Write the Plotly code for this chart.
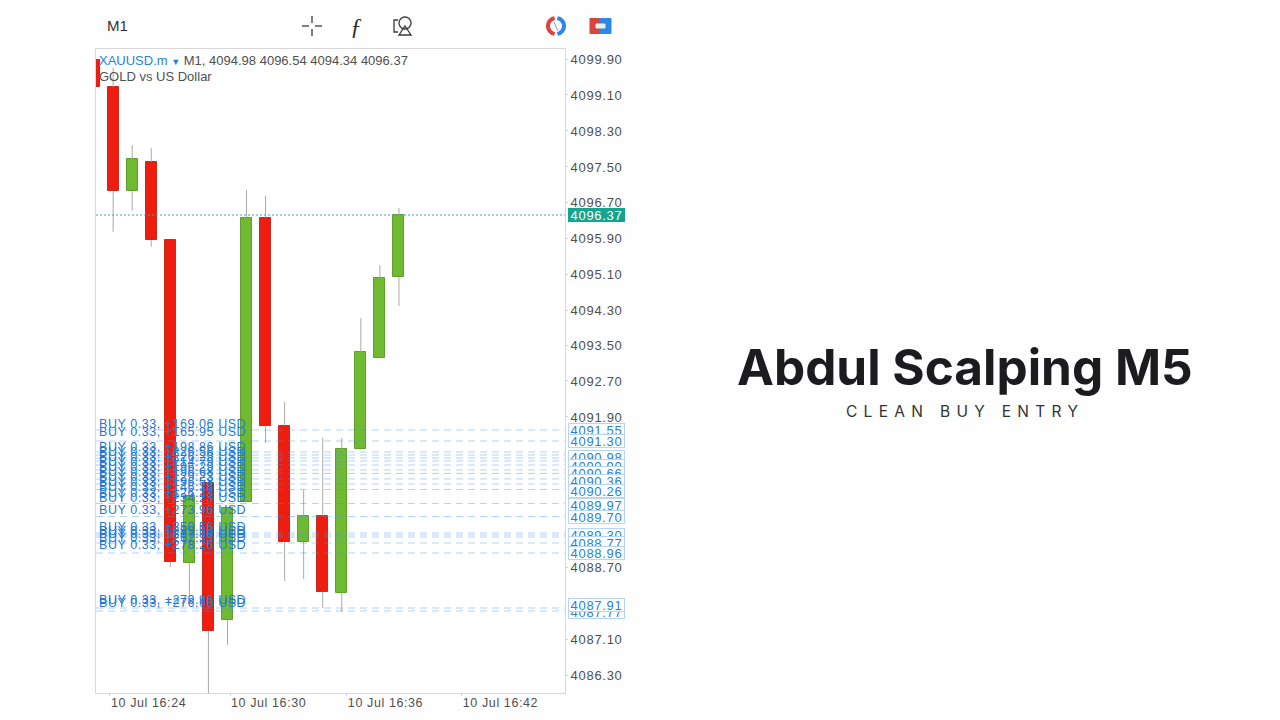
import math
import plotly.graph_objects as go

# ---------- data ----------
minutes = ["16:23","16:24","16:25","16:26","16:27","16:28","16:29","16:30","16:31","16:32",
           "16:33","16:34","16:35","16:36","16:37","16:38","16:39"]
opens  = [4099.889,4099.289,4096.978,4097.622,4095.889,4088.718,4090.489,4087.444,4090.073,
          4096.384,4091.762,4089.178,4089.756,4088.051,4091.244,4093.267,4095.067]
closes = [4099.289,4096.978,4097.689,4095.889,4088.740,4090.200,4087.200,4089.933,4096.384,
          4091.762,4089.184,4089.756,4088.073,4091.244,4093.400,4095.044,4096.444]
highs  = [4099.889,4099.711,4098.000,4097.933,4095.889,4090.200,4090.489,4089.933,4097.000,
          4096.873,4092.289,4090.333,4091.489,4091.489,4094.156,4095.333,4096.600]
lows   = [4099.289,4096.073,4096.540,4095.740,4088.622,4087.956,4085.800,4086.889,4090.073,
          4091.378,4088.311,4088.356,4087.711,4087.622,4091.244,4093.267,4094.422]

price_tick_positions = [4099.900,4099.111,4098.311,4097.511,4096.733,4095.933,4095.133,4094.333,
                        4093.544,4092.756,4091.956,4088.622,4087.022,4086.222]
price_tick_labels = ["4099.90","4099.10","4098.30","4097.50","4096.70","4095.90","4095.10","4094.30",
                     "4093.50","4092.70","4091.90","4088.70","4087.10","4086.30"]
time_tick_positions = ["2025-07-10 16:23:50","2025-07-10 16:30:08","2025-07-10 16:36:16","2025-07-10 16:42:18"]
time_tick_labels = ["10 Jul 16:24","10 Jul 16:30","10 Jul 16:36","10 Jul 16:42"]

order_lines = [4091.667,4091.422,4091.178,4091.111,4091.044,4090.978,4090.889,4090.778,4090.700,
               4090.578,4090.467,4090.344,4090.033,4089.744,4089.378,4089.333,4089.289,4089.156,
               4088.933,4087.711,4087.644]
order_text_pos = [4091.800,4091.633,4091.289,4091.178,4091.067,4090.956,4090.844,4090.733,4090.622,
                  4090.511,4090.400,4090.267,4090.156,4089.889,4089.511,4089.422,4089.356,4089.267,
                  4089.111,4087.889,4087.822]
order_profit = ["+169.06","+165.95","+198.86","+226.56","+226.29","+214.79","+196.29","+196.68","+129.23",
                "+196.58","+146.38","+126.23","+234.23","+273.96","+250.56","+299.56","+267.86","+262.33",
                "+278.26","+279.96","+276.66"]
tag_pos = [4091.667,4091.411,4091.056,4090.867,4090.700,4090.533,4090.300,4090.000,4089.744,4089.344,
           4089.156,4088.944,4087.622,4087.767]
tag_labels = ["4091.55","4091.30","4090.98","4090.90","4090.66","4090.36","4090.26","4089.97","4089.70",
              "4089.30","4088.77","4088.96","4087.77","4087.91"]
current_pos = 4096.444
current_label = "4096.37"

L, R, T, B = 96, 565, 49, 693
W, H = 1280, 720
xp = lambda x: (x - L) / (R - L)
yp = lambda y: (B - y) / (B - T)

RED, GREEN, WICK, BLUE = "#ef1d0f", "#6fba30", "#a9a9a9", "#2a7fd6"
TICKC = "#505050"
FONT = "Liberation Sans"

def spaced(text, px):
    return f'<span style="letter-spacing:{px}px">{text}</span>'

xs = [f"2025-07-10 {m}:00" for m in minutes]

wx, wy = [], []
for x, o, c, h, l in zip(xs, opens, closes, highs, lows):
    top, bot = max(o, c), min(o, c)
    if h > top:
        wx += [x, x, None]; wy += [h, top, None]
    if l < bot:
        wx += [x, x, None]; wy += [bot, l, None]

fig = go.Figure()
fig.add_trace(go.Bar(
    x=xs, y=[c - o for o, c in zip(opens, closes)], base=opens, width=34500,
    marker=dict(color=[GREEN if c > o else RED for o, c in zip(opens, closes)],
                line=dict(color=["#5f9f2c" if c > o else "#c92a1c" for o, c in zip(opens, closes)], width=1)),
    showlegend=False))
fig.add_trace(go.Scatter(x=wx, y=wy, mode="lines", line=dict(color=WICK, width=1), showlegend=False,
                         connectgaps=False))

shapes = []
for v in order_lines:
    shapes.append(dict(type="line", xref="paper", x0=0, x1=1, yref="y", y0=v, y1=v,
                       line=dict(color="rgba(70,150,230,0.42)", width=1, dash="7px,5px")))
shapes.append(dict(type="line", xref="paper", x0=0, x1=1, yref="y", y0=current_pos, y1=current_pos,
                   line=dict(color="#3aa99a", width=1, dash="2px,2px")))

def seg(x0, y0, x1, y1, color="#3a3a3a", width=1.3):
    shapes.append(dict(type="line", xref="paper", yref="paper", x0=xp(x0), x1=xp(x1), y0=yp(y0), y1=yp(y1),
                       line=dict(color=color, width=width)))

def poly(points, color, width=1.3, fill=None, close=False):
    d = "M " + " L ".join(f"{xp(a):.5f},{yp(b):.5f}" for a, b in points) + (" Z" if close else "")
    shapes.append(dict(type="path", xref="paper", yref="paper", path=d,
                       line=dict(color=color, width=width), fillcolor=fill))

def arc(cx, cy, rx, ry, a0, a1, n=24):
    return [(cx + rx * math.cos(math.radians(a0 + (a1 - a0) * i / n)),
             cy + ry * math.sin(math.radians(a0 + (a1 - a0) * i / n))) for i in range(n + 1)]

# crosshair icon
seg(302, 26, 309, 26); seg(315, 26, 322, 26); seg(312, 16, 312, 23); seg(312, 29, 312, 36)
# objects icon
poly([(398, 20), (394, 20), (394, 32), (398, 32)], "#3a3a3a")
poly(arc(405, 23, 6, 6, 0, 360), "#3a3a3a")
poly([(405, 26), (411, 35), (399, 35)], "#3a3a3a", close=True)
# ring icon
poly(arc(556, 26, 8, 8, 100, 260), "#d8453f", 4)
poly(arc(556, 26, 8, 8, -80, 80), "#2b88e6", 4)
seg(554, 22, 558, 31, "#8a9bb0", 1)
# split button icon
poly([(590, 18.5), (600, 18.5), (600, 33.5), (590, 33.5)], "#d8453f", 1, "#d8453f", True)
poly([(600, 18.5), (611, 18.5), (611, 33.5), (600, 33.5)], "#2b88e6", 1, "#2b88e6", True)
poly([(596, 24), (605, 24), (605, 28), (596, 28)], "#e8eef5", 1, "#e8eef5", True)

ann = []
def text(x, y, s, size=13, color=TICKC, xanchor="left", family=FONT, **kw):
    ann.append(dict(xref="paper", yref="paper", x=xp(x), y=yp(y), text=s, showarrow=False, xanchor=xanchor,
                    yanchor="middle", font=dict(family=family, size=size, color=color), **kw))

text(105, 26, "M1", 15, "#333333")
text(356, 26, "<i>ƒ</i>", 24, "#333333", "center", "Liberation Serif")
text(97, 60.5, f'<span style="color:{BLUE}">XAUUSD.m</span> <span style="color:{BLUE};font-size:9px">▼</span> M1, 4094.98 4096.54 4094.34 4096.37', 13)
text(97, 76.5, "GOLD vs US Dollar", 13)
text(965, 367, "<b>Abdul Scalping M5</b>", 49.5, "#1c1c1e", "center", "Inter")
text(965, 411, spaced("CLEAN BUY ENTRY", 6.3), 15.5, "#333333", "center", "Inter")

for pos, prof in zip(order_text_pos, order_profit):
    ann.append(dict(xref="paper", yref="y", x=xp(97), y=pos, text=spaced(f"BUY 0.33, {prof} USD", 0.55), showarrow=False,
                    xanchor="left", yanchor="middle", font=dict(family=FONT, size=12.5, color="#1f78d8")))
for pos, lab in zip(tag_pos, tag_labels):
    ann.append(dict(xref="paper", yref="y", x=xp(567.5), y=pos, text=spaced(lab, 0.7), showarrow=False, xanchor="left",
                    yanchor="middle", width=55, height=12, align="center", bgcolor="#ffffff", bordercolor="#b5d6f5",
                    borderwidth=1, borderpad=0, font=dict(family=FONT, size=13, color=BLUE)))
ann.append(dict(xref="paper", yref="y", x=xp(567.5), y=current_pos, text=spaced(current_label, 0.7), showarrow=False,
                xanchor="left", yanchor="middle", width=55, height=12, align="center", bgcolor="#13a590",
                bordercolor="#13a590", borderwidth=1, borderpad=0, font=dict(family=FONT, size=13, color="#ffffff")))

fig.update_layout(
    width=W, height=H, autosize=False, margin=dict(l=L, r=W - R, t=T, b=H - B, pad=0, autoexpand=False),
    paper_bgcolor="#fefefe", plot_bgcolor="#ffffff", bargap=0, showlegend=False,
    shapes=shapes, annotations=ann, font=dict(family=FONT, color=TICKC),
    xaxis=dict(type="date", range=["2025-07-10 16:23:06", "2025-07-10 16:47:43"], automargin=False,
               tickmode="array", tickvals=time_tick_positions, ticktext=[spaced(s, 0.6) for s in time_tick_labels],
               ticklabelposition="outside right", ticklabelstandoff=-2, ticks="outside", ticklen=2, tickcolor="#d5d5d5", showgrid=False, zeroline=False,
               showline=True, linecolor="#d8d8d8", linewidth=1, mirror=True, tickfont=dict(size=12.5, color=TICKC, family=FONT)),
    yaxis=dict(side="right", range=[4085.822, 4100.133], tickmode="array", tickvals=price_tick_positions, automargin=False,
               ticktext=[spaced(s, 0.7) for s in price_tick_labels], ticks="outside", ticklen=2, tickcolor="#d5d5d5",
               showgrid=False, zeroline=False, showline=True, linecolor="#d8d8d8", linewidth=1, mirror=True,
               tickfont=dict(size=13, color=TICKC, family=FONT)),
)
fig.write_html("out.html", config={"displayModeBar": False},
               post_script="document.body.style.margin='0';document.documentElement.style.overflow='hidden';")
